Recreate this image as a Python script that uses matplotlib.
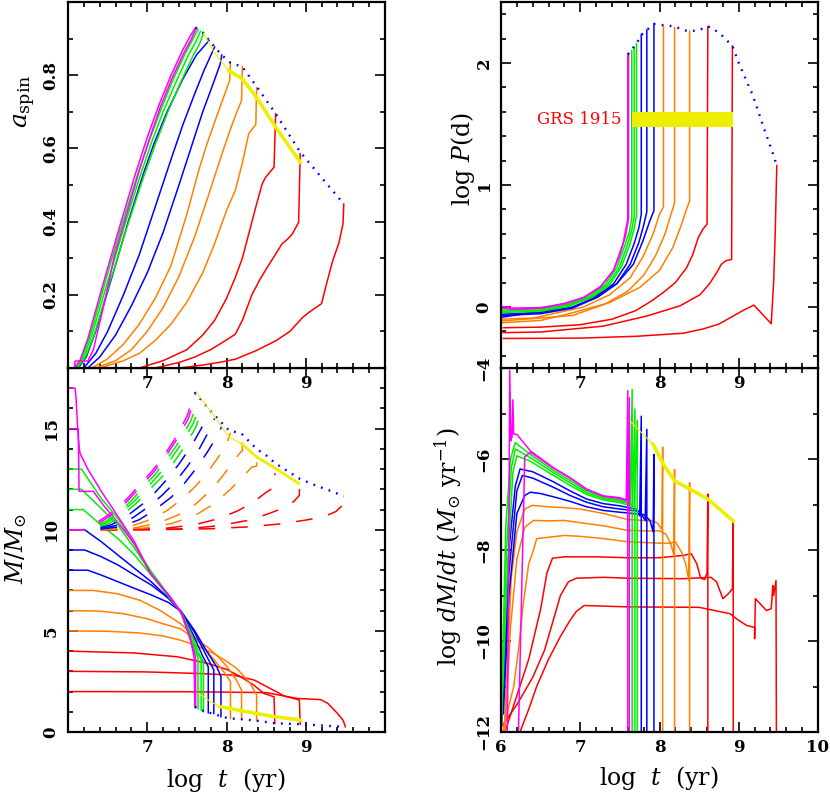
import matplotlib
matplotlib.use("Agg")
import matplotlib.pyplot as plt
from matplotlib.ticker import MultipleLocator

plt.rcParams['font.family'] = ['DejaVu Serif']
plt.rcParams['mathtext.fontset'] = 'dejavuserif'
plt.rcParams['lines.scale_dashes'] = False

# ---------------- data ----------------
donor_mass = [17, 15, 13, 12, 11, 10, 9, 8, 7, 6, 5, 4, 3, 2]
track_colors = ['#ff00ff', '#ff00ff', '#00ee00', '#00ee00', '#00ee00',
                '#0000ff', '#0000ff', '#0000ff', '#ff8000', '#ff8000', '#ff8000',
                '#ff0000', '#ff0000', '#ff0000']

# spin parameter vs log t
spin_t = [
    [6.08, 6.15, 6.25, 6.45, 6.65, 6.85, 7.0, 7.15, 7.3, 7.45, 7.55, 7.61],
    [6.08, 6.09, 6.25, 6.32, 6.45, 6.59, 6.74, 6.9, 7.02, 7.16, 7.31, 7.46, 7.56, 7.61],
    [6.1, 6.18, 6.28, 6.47, 6.67, 6.88, 7.03, 7.18, 7.33, 7.48, 7.58, 7.64],
    [6.11, 6.2, 6.3, 6.5, 6.7, 6.91, 7.06, 7.21, 7.37, 7.52, 7.61, 7.67],
    [6.12, 6.22, 6.33, 6.53, 6.73, 6.95, 7.1, 7.26, 7.42, 7.57, 7.66, 7.71],
    [6.13, 6.23, 6.35, 6.55, 6.76, 6.95, 7.08, 7.25, 7.45, 7.62, 7.78],
    [6.2, 6.35, 6.5, 6.7, 6.9, 7.1, 7.3, 7.45, 7.6, 7.72, 7.85],
    [6.25, 6.4, 6.6, 6.8, 7.0, 7.2, 7.4, 7.55, 7.7, 7.82, 7.92, 7.94],
    [6.3, 6.5, 6.7, 6.9, 7.1, 7.3, 7.5, 7.65, 7.75, 7.88, 7.98, 8.04, 8.05],
    [6.35, 6.6, 6.8, 7.0, 7.2, 7.4, 7.6, 7.8, 7.95, 8.07, 8.15, 8.19, 8.2],
    [6.4, 6.7, 6.9, 7.1, 7.3, 7.5, 7.7, 7.85, 8.0, 8.11, 8.2, 8.28, 8.37, 8.38],
    [6.9, 7.2, 7.5, 7.7, 7.85, 8.0, 8.11, 8.2, 8.28, 8.37, 8.45, 8.49, 8.6, 8.62],
    [7.1, 7.4, 7.6, 7.8, 7.95, 8.11, 8.2, 8.32, 8.43, 8.54, 8.7, 8.77, 8.83, 8.91, 8.93],
    [7.4, 7.7, 7.9, 8.11, 8.37, 8.62, 8.8, 8.96, 9.04, 9.2, 9.25, 9.34, 9.42, 9.47, 9.48],
]
spin_a = [
    [0.0, 0.02, 0.08, 0.235, 0.385, 0.53, 0.63, 0.72, 0.80, 0.87, 0.91, 0.93],
    [0.0, 0.019, 0.019, 0.05, 0.17, 0.31, 0.42, 0.54, 0.62, 0.71, 0.79, 0.86, 0.9, 0.925],
    [0.0, 0.03, 0.09, 0.235, 0.385, 0.53, 0.625, 0.71, 0.79, 0.86, 0.9, 0.925],
    [0.0, 0.03, 0.09, 0.235, 0.38, 0.525, 0.62, 0.705, 0.785, 0.855, 0.89, 0.92],
    [0.0, 0.03, 0.09, 0.235, 0.375, 0.52, 0.61, 0.70, 0.78, 0.85, 0.885, 0.915],
    [0.0, 0.03, 0.1, 0.245, 0.40, 0.53, 0.61, 0.70, 0.79, 0.855, 0.895],
    [0.0, 0.04, 0.1, 0.2, 0.31, 0.44, 0.57, 0.665, 0.75, 0.815, 0.877],
    [0.0, 0.03, 0.09, 0.17, 0.26, 0.37, 0.50, 0.60, 0.70, 0.77, 0.83, 0.855],
    [0.0, 0.025, 0.065, 0.12, 0.19, 0.28, 0.42, 0.54, 0.61, 0.69, 0.75, 0.786, 0.834],
    [0.0, 0.02, 0.05, 0.1, 0.165, 0.25, 0.36, 0.49, 0.59, 0.665, 0.71, 0.731, 0.823],
    [0.0, 0.02, 0.04, 0.075, 0.12, 0.18, 0.26, 0.34, 0.43, 0.485, 0.56, 0.64, 0.666, 0.766],
    [0.0, 0.02, 0.05, 0.09, 0.13, 0.19, 0.247, 0.3, 0.366, 0.44, 0.503, 0.52, 0.549, 0.695],
    [0.0, 0.015, 0.03, 0.05, 0.07, 0.092, 0.13, 0.2, 0.245, 0.284, 0.339, 0.352, 0.366, 0.398, 0.585],
    [0.0, 0.008, 0.015, 0.024, 0.047, 0.074, 0.1, 0.138, 0.152, 0.176, 0.22, 0.293, 0.343, 0.394, 0.448],
]
spin_env_t = [7.61, 7.64, 7.67, 7.71, 7.78, 7.85, 7.94, 8.05, 8.2, 8.39, 8.62, 8.93, 9.48]
spin_env_a = [0.93, 0.925, 0.92, 0.915, 0.895, 0.877, 0.855, 0.834, 0.823, 0.766, 0.695, 0.59, 0.448]
spin_yel_thin_t = [7.71, 7.85, 8.03]
spin_yel_thin_a = [0.915, 0.86, 0.812]
spin_yel_t = [8.03, 8.2, 8.39, 8.62, 8.93]
spin_yel_a = [0.812, 0.79, 0.736, 0.658, 0.5625]

# orbital period vs log t
per_t = [
    [6.0, 6.1, 6.1, 6.5, 6.8, 7.04, 7.25, 7.42, 7.54, 7.6, 7.6],
    [6.0, 6.5, 6.8, 7.05, 7.26, 7.42, 7.5, 7.57, 7.61, 7.61],
    [6.0, 6.5, 6.8, 7.09, 7.31, 7.46, 7.56, 7.62, 7.65, 7.65],
    [6.0, 6.5, 6.82, 7.12, 7.34, 7.49, 7.59, 7.65, 7.68, 7.68],
    [6.0, 6.5, 6.85, 7.15, 7.37, 7.52, 7.62, 7.68, 7.71, 7.71],
    [6.0, 6.5, 6.9, 7.2, 7.42, 7.58, 7.68, 7.74, 7.77, 7.77],
    [6.0, 6.5, 6.9, 7.22, 7.46, 7.63, 7.74, 7.8, 7.84, 7.84],
    [6.0, 6.66, 7.16, 7.46, 7.67, 7.79, 7.88, 7.93, 7.93],
    [6.0, 6.41, 7.04, 7.37, 7.63, 7.79, 7.92, 8.0, 8.05, 8.05],
    [6.0, 6.9, 7.3, 7.6, 7.8, 7.95, 8.07, 8.15, 8.19, 8.19],
    [6.0, 6.5, 6.83, 7.37, 7.75, 8.0, 8.17, 8.28, 8.34, 8.38, 8.38],
    [6.03, 6.5, 7.0, 7.4, 7.7, 7.9, 8.05, 8.2, 8.34, 8.42, 8.49, 8.55, 8.6, 8.61],
    [6.03, 6.5, 7.29, 7.84, 8.26, 8.51, 8.63, 8.72, 8.78, 8.84, 8.91, 8.92],
    [6.03, 7.0, 7.71, 8.3, 8.55, 8.75, 8.93, 9.05, 9.19, 9.3, 9.41, 9.44, 9.46, 9.48],
]
per_p = [
    [0.0, 0.0, -0.02, -0.01, 0.03, 0.077, 0.16, 0.30, 0.52, 0.72, 2.07],
    [-0.01, -0.005, 0.025, 0.08, 0.17, 0.3, 0.43, 0.58, 0.72, 2.08],
    [-0.025, -0.015, 0.015, 0.08, 0.18, 0.32, 0.5, 0.62, 0.73, 2.10],
    [-0.035, -0.025, 0.01, 0.08, 0.18, 0.32, 0.5, 0.63, 0.74, 2.13],
    [-0.045, -0.035, 0.005, 0.08, 0.18, 0.33, 0.5, 0.64, 0.75, 2.16],
    [-0.06, -0.045, 0.0, 0.08, 0.19, 0.35, 0.52, 0.65, 0.76, 2.23],
    [-0.07, -0.055, -0.01, 0.08, 0.19, 0.35, 0.53, 0.67, 0.78, 2.27],
    [-0.085, -0.02, 0.08, 0.19, 0.35, 0.54, 0.71, 0.79, 2.32],
    [-0.10, -0.09, 0.0, 0.10, 0.24, 0.41, 0.6, 0.76, 0.82, 2.30],
    [-0.115, -0.07, 0.02, 0.13, 0.26, 0.42, 0.6, 0.77, 0.85, 2.29],
    [-0.13, -0.11, -0.06, 0.036, 0.16, 0.30, 0.49, 0.68, 0.8, 0.87, 2.26],
    [-0.17, -0.165, -0.145, -0.1, -0.03, 0.05, 0.12, 0.2, 0.32, 0.43, 0.57, 0.64, 0.68, 2.30],
    [-0.21, -0.205, -0.157, -0.074, 0.01, 0.10, 0.19, 0.28, 0.35, 0.38, 0.39, 2.14],
    [-0.258, -0.255, -0.24, -0.215, -0.18, -0.14, -0.074, -0.03, 0.016, -0.06, -0.137, 0.2, 0.6, 1.16],
]
per_env_t = [7.6, 7.65, 7.71, 7.77, 7.84, 7.93, 8.05, 8.19, 8.3, 8.38, 8.5, 8.61, 8.75, 8.92,
             9.0, 9.1, 9.18, 9.31, 9.43, 9.48]
per_env_p = [2.07, 2.11, 2.16, 2.23, 2.27, 2.32, 2.31, 2.30, 2.27, 2.26, 2.27, 2.30, 2.25, 2.14,
             2.0, 1.85, 1.73, 1.48, 1.26, 1.16]
grs_t = [7.65, 8.93]
grs_p = [1.478, 1.60]

# donor mass vs log t
mass_t = [
    [6.0, 6.09, 6.1, 6.13, 6.15, 6.25, 6.42, 6.59, 6.84, 7.04, 7.29, 7.44, 7.54, 7.59, 7.6],
    [6.0, 6.13, 6.14, 6.32, 6.45, 6.6, 6.84, 7.04, 7.29, 7.44, 7.54, 7.61, 7.61],
    [6.0, 6.17, 6.42, 6.63, 6.84, 7.05, 7.27, 7.42, 7.52, 7.6, 7.64, 7.64],
    [6.0, 6.17, 6.42, 6.63, 6.84, 7.05, 7.27, 7.43, 7.55, 7.63, 7.68, 7.68],
    [6.0, 6.19, 6.42, 6.63, 6.84, 7.05, 7.27, 7.43, 7.56, 7.65, 7.71, 7.71],
    [6.0, 6.21, 6.42, 6.63, 6.84, 7.05, 7.27, 7.43, 7.58, 7.7, 7.77, 7.77],
    [6.0, 6.21, 6.42, 6.63, 6.84, 7.05, 7.27, 7.43, 7.6, 7.73, 7.84, 7.84],
    [6.0, 6.25, 6.42, 6.63, 6.84, 7.05, 7.27, 7.43, 7.6, 7.75, 7.88, 7.93, 7.93],
    [6.0, 6.32, 6.62, 6.91, 7.16, 7.42, 7.6, 7.75, 7.88, 8.0, 8.05, 8.05],
    [6.0, 6.4, 6.7, 7.0, 7.2, 7.42, 7.6, 7.76, 7.9, 8.01, 8.12, 8.19, 8.19],
    [6.0, 6.5, 6.9, 7.2, 7.42, 7.6, 7.84, 8.0, 8.13, 8.3, 8.38, 8.38],
    [6.0, 6.83, 7.38, 7.76, 8.0, 8.18, 8.35, 8.47, 8.6, 8.61],
    [6.0, 7.0, 7.67, 8.09, 8.35, 8.51, 8.73, 8.92, 8.93],
    [6.0, 7.5, 8.5, 8.89, 9.19, 9.28, 9.4, 9.47, 9.5],
]
mass_m = [
    [17.0, 17.0, 16.6, 14.5, 13.8, 13.0, 11.9, 10.9, 9.4, 7.83, 6.68, 5.86, 4.7, 3.72, 1.25],
    [15.0, 15.0, 11.9, 11.9, 11.2, 10.5, 9.3, 7.85, 6.65, 5.8, 4.6, 3.72, 1.2],
    [13.0, 13.0, 11.55, 10.56, 9.24, 7.93, 6.78, 5.9, 4.9, 4.0, 3.72, 1.15],
    [12.0, 12.0, 11.05, 10.23, 9.08, 7.85, 6.72, 5.9, 4.7, 3.9, 3.63, 1.09],
    [11.0, 11.0, 10.23, 9.57, 8.75, 7.76, 6.69, 5.95, 4.8, 3.9, 3.47, 1.0],
    [10.0, 10.0, 9.41, 8.75, 8.09, 7.43, 6.61, 5.95, 4.8, 3.75, 3.22, 0.95],
    [9.0, 9.0, 8.67, 8.26, 7.76, 7.27, 6.61, 5.95, 4.9, 3.9, 3.06, 0.92],
    [8.0, 8.0, 7.76, 7.43, 7.1, 6.78, 6.4, 5.95, 5.0, 4.0, 3.2, 2.73, 0.76],
    [7.0, 7.0, 6.84, 6.51, 6.02, 5.36, 4.7, 4.0, 3.4, 2.8, 2.48, 0.67],
    [6.0, 5.98, 5.85, 5.6, 5.35, 5.1, 4.6, 4.2, 3.7, 3.22, 2.6, 2.07, 0.63],
    [5.0, 4.98, 4.9, 4.75, 4.54, 4.3, 3.88, 3.5, 3.14, 2.4, 1.83, 0.56],
    [4.0, 3.91, 3.72, 3.39, 3.1, 2.73, 2.3, 1.91, 1.74, 0.43],
    [3.0, 2.97, 2.89, 2.81, 2.57, 2.24, 1.78, 1.58, 0.39],
    [2.0, 1.99, 1.95, 1.66, 1.6, 1.41, 0.92, 0.59, 0.26],
]
# black hole mass vs log t (dashed)
bh_t = [
    [6.0, 6.19, 6.25, 6.42, 6.59, 6.75, 6.91, 7.05, 7.2, 7.35, 7.5, 7.6],
    [6.0, 6.2, 6.27, 6.44, 6.61, 6.77, 6.93, 7.07, 7.22, 7.37, 7.52, 7.61],
    [6.0, 6.22, 6.47, 6.64, 6.8, 6.96, 7.1, 7.25, 7.4, 7.55, 7.65],
    [6.0, 6.23, 6.49, 6.66, 6.83, 6.99, 7.13, 7.28, 7.43, 7.58, 7.68],
    [6.0, 6.25, 6.52, 6.69, 6.86, 7.02, 7.17, 7.32, 7.47, 7.61, 7.71],
    [6.0, 6.27, 6.55, 6.75, 6.95, 7.1, 7.25, 7.4, 7.55, 7.68, 7.78],
    [6.0, 6.3, 6.6, 6.82, 7.02, 7.2, 7.36, 7.5, 7.65, 7.76, 7.85],
    [6.0, 6.33, 6.66, 6.9, 7.1, 7.3, 7.47, 7.62, 7.76, 7.86, 7.94],
    [6.0, 6.36, 6.75, 7.0, 7.25, 7.45, 7.62, 7.76, 7.9, 8.0, 8.05],
    [6.0, 6.4, 6.85, 7.15, 7.4, 7.62, 7.8, 7.95, 8.08, 8.18, 8.2, 8.2],
    [6.0, 6.45, 6.95, 7.3, 7.6, 7.85, 8.05, 8.2, 8.32, 8.38, 8.38],
    [6.0, 6.6, 7.2, 7.6, 7.9, 8.15, 8.35, 8.5, 8.6, 8.61, 8.61],
    [6.0, 6.8, 7.5, 7.9, 8.25, 8.5, 8.7, 8.85, 8.92, 8.92],
    [6.0, 7.0, 7.8, 8.3, 8.7, 9.0, 9.23, 9.38, 9.46, 9.48, 9.48],
]
bh_m = [
    [10, 10, 10.15, 10.5, 10.95, 11.55, 12.25, 12.85, 13.6, 14.5, 15.6, 16.8],
    [10, 10, 10.12, 10.45, 10.9, 11.5, 12.2, 12.8, 13.55, 14.45, 15.5, 16.7],
    [10, 10, 10.4, 10.85, 11.45, 12.15, 12.75, 13.5, 14.35, 15.4, 16.5],
    [10, 10, 10.35, 10.8, 11.4, 12.05, 12.65, 13.4, 14.25, 15.25, 16.3],
    [10, 10, 10.3, 10.75, 11.3, 11.95, 12.55, 13.25, 14.1, 15.05, 16.1],
    [10, 10, 10.25, 10.7, 11.3, 11.85, 12.5, 13.25, 14.1, 15.0, 15.8],
    [10, 10, 10.2, 10.6, 11.15, 11.75, 12.4, 13.1, 13.95, 14.75, 15.5],
    [10, 10, 10.15, 10.5, 11.0, 11.6, 12.3, 13.05, 13.85, 14.5, 15.1],
    [10, 10, 10.12, 10.45, 10.95, 11.55, 12.2, 12.85, 13.6, 14.25, 14.8],
    [10, 10, 10.1, 10.35, 10.75, 11.3, 11.95, 12.65, 13.35, 13.85, 13.9, 14.75],
    [10, 10, 10.08, 10.3, 10.7, 11.3, 12.0, 12.6, 13.1, 13.15, 14.0],
    [10, 10, 10.06, 10.25, 10.55, 10.95, 11.4, 11.85, 12.1, 12.1, 12.8],
    [10, 10, 10.05, 10.2, 10.45, 10.75, 11.05, 11.4, 11.7, 12.5],
    [10, 10, 10.05, 10.15, 10.3, 10.48, 10.65, 10.9, 11.2, 11.3, 11.66],
]
mass_env_lo_t = [7.6, 7.68, 7.77, 7.84, 7.93, 8.05, 8.19, 8.38, 8.61, 8.92, 9.2, 9.5]
mass_env_lo_m = [1.25, 1.09, 0.95, 0.92, 0.76, 0.67, 0.63, 0.56, 0.43, 0.39, 0.32, 0.26]
mass_env_hi_t = [7.6, 7.81, 8.03, 8.19, 8.38, 8.53, 8.61, 8.92, 9.12, 9.33, 9.48]
mass_env_hi_m = [16.8, 15.82, 14.92, 14.75, 14.0, 13.6, 13.3, 12.53, 12.2, 11.9, 11.66]
mass_yel_lo_thin_t = [7.65, 7.78, 7.92]
mass_yel_lo_thin_m = [1.9, 1.55, 1.25]
mass_yel_lo_t = [7.92, 8.26, 8.6, 8.93]
mass_yel_lo_m = [1.25, 1.0, 0.76, 0.59]
mass_yel_hi_thin_t = [7.62, 7.85, 8.03, 8.19]
mass_yel_hi_thin_m = [16.8, 15.6, 14.59, 14.26]
mass_yel_hi_t = [8.19, 8.38, 8.62, 8.91]
mass_yel_hi_m = [14.26, 13.6, 13.03, 12.29]

# mass transfer rate vs log t
mdot_t = [
    [6.08, 6.1, 6.11, 6.125, 6.14, 6.15, 6.16, 6.2, 6.37, 6.66, 6.87, 7.08, 7.29, 7.5, 7.58, 7.6, 7.6],
    [6.22, 6.3, 6.37, 6.66, 6.87, 7.08, 7.29, 7.5, 7.6, 7.62, 7.62],
    [6.0, 6.06, 6.12, 6.18, 6.37, 6.66, 6.87, 7.08, 7.29, 7.5, 7.63, 7.655, 7.655],
    [6.0, 6.07, 6.13, 6.18, 6.37, 6.66, 6.87, 7.08, 7.29, 7.5, 7.66, 7.69, 7.69],
    [6.0, 6.08, 6.15, 6.2, 6.37, 6.66, 6.87, 7.08, 7.29, 7.5, 7.68, 7.72, 7.72],
    [6.01, 6.1, 6.18, 6.24, 6.4, 6.66, 6.87, 7.08, 7.29, 7.5, 7.7, 7.75, 7.77, 7.77],
    [6.02, 6.1, 6.2, 6.27, 6.4, 6.66, 6.87, 7.08, 7.29, 7.5, 7.75, 7.82, 7.84, 7.84],
    [6.03, 6.1, 6.2, 6.3, 6.37, 6.5, 6.66, 6.87, 7.08, 7.29, 7.5, 7.8, 7.88, 7.92, 7.93, 7.93],
    [6.04, 6.13, 6.2, 6.3, 6.39, 6.6, 6.8, 7.0, 7.3, 7.6, 7.9, 7.97, 8.03, 8.04, 8.04],
    [6.05, 6.12, 6.2, 6.3, 6.41, 6.6, 6.8, 7.0, 7.3, 7.6, 7.85, 8.0, 8.08, 8.14, 8.18, 8.19, 8.19],
    [6.02, 6.16, 6.22, 6.28, 6.35, 6.41, 6.45, 6.6, 6.8, 7.0, 7.3, 7.6, 8.0, 8.13, 8.2, 8.28,
     8.33, 8.37, 8.38, 8.38],
    [6.05, 6.2, 6.35, 6.5, 6.58, 6.65, 6.8, 7.2, 7.6, 8.0, 8.3, 8.4, 8.47, 8.52, 8.57, 8.6, 8.61, 8.61],
    [6.0, 6.2, 6.4, 6.55, 6.65, 6.75, 6.85, 6.95, 7.3, 7.6, 8.3, 8.65, 8.72, 8.8, 8.87, 8.92,
     8.93, 8.93],
    [6.24, 6.35, 6.45, 6.6, 6.75, 6.87, 6.95, 7.05, 7.6, 8.5, 8.89, 8.97, 9.1, 9.2, 9.2, 9.21,
     9.28, 9.35, 9.41, 9.43, 9.44, 9.47, 9.475],
]
mdot_v = [
    [-12, -7.5, -4.05, -5.6, -5.5, -4.7, -5.45, -5.46, -5.82, -6.19, -6.41, -6.66, -6.81, -6.85,
     -6.9, -4.5, -12],
    [-12, -5.95, -5.85, -6.2, -6.42, -6.67, -6.82, -6.87, -6.92, -4.65, -12],
    [-12, -7.5, -6.0, -5.64, -5.9, -6.25, -6.47, -6.7, -6.84, -6.9, -6.97, -4.47, -12],
    [-12, -8.0, -6.2, -5.78, -5.97, -6.3, -6.52, -6.74, -6.87, -6.93, -7.0, -4.9, -12],
    [-12, -8.5, -6.3, -5.93, -6.05, -6.36, -6.58, -6.78, -6.9, -6.96, -7.05, -5.15, -12],
    [-11.8, -8.0, -6.6, -6.22, -6.28, -6.5, -6.7, -6.88, -6.98, -7.03, -7.1, -7.25, -5.06, -12],
    [-11.6, -8.5, -6.7, -6.36, -6.42, -6.62, -6.8, -6.95, -7.05, -7.1, -7.15, -7.35, -5.35, -12],
    [-11.6, -9.0, -7.2, -6.8, -6.73, -6.76, -6.83, -6.93, -7.05, -7.13, -7.17, -7.22, -7.35,
     -7.6, -5.9, -12],
    [-12, -8.6, -7.6, -7.1, -7.02, -7.05, -7.07, -7.1, -7.2, -7.33, -7.36, -7.4, -7.55, -5.74, -12],
    [-12, -9.7, -8.2, -7.5, -7.35, -7.36, -7.35, -7.4, -7.47, -7.57, -7.58, -7.58, -7.65, -7.85,
     -8.1, -6.23, -12],
    [-12, -11.0, -10.2, -9.2, -8.3, -8.0, -7.75, -7.72, -7.68, -7.7, -7.75, -7.82, -7.85, -7.85,
     -7.82, -8.05, -8.3, -8.67, -6.52, -12],
    [-12, -11.2, -10.4, -9.3, -8.5, -8.18, -8.15, -8.15, -8.17, -8.17, -8.12, -8.08, -8.3, -8.62,
     -8.65, -8.5, -6.77, -12],
    [-11.9, -11.4, -10.8, -10.2, -9.6, -9.0, -8.7, -8.62, -8.6, -8.62, -8.63, -8.6, -8.7, -9.07,
     -8.96, -8.85, -7.36, -12],
    [-12, -11.5, -11.0, -10.4, -9.9, -9.55, -9.35, -9.22, -9.25, -9.26, -9.4, -9.51, -9.66, -9.7,
     -9.95, -9.07, -9.2, -9.33, -9.29, -8.78, -9.0, -8.67, -12],
]
mdot_yel_thin_t = [7.63, 7.92]
mdot_yel_thin_v = [-5.17, -5.68]
mdot_yel_t = [7.92, 8.05, 8.19, 8.38, 8.61, 8.93]
mdot_yel_v = [-5.68, -6.12, -6.48, -6.66, -6.88, -7.36]

# ---------------- figure ----------------
LW = 1.1
YEL = '#eeee00'
ENV = dict(color='#0000ff', lw=1.7, ls=(0, (1.3, 4.5)))
DASH = (0, (12, 11.5))

fig = plt.figure(figsize=(8.30, 7.95), dpi=100)
W = 317 / 830
ax_bl = fig.add_axes([68 / 830, 63 / 795, W, 364 / 795])
ax_br = fig.add_axes([501 / 830, 63 / 795, W, 364 / 795])
ax_tl = fig.add_axes([68 / 830, 427 / 795, W, 366 / 795])
ax_tr = fig.add_axes([501 / 830, 427 / 795, W, 366 / 795])

TICKFONT = dict(fontsize=12, fontweight='bold')
LABEL_FS = 17


def style(ax, ylim, yticks, ylabels, yminor, xlabels):
    ax.set_xlim(6, 10)
    ax.set_ylim(*ylim)
    ax.set_xticks([6, 7, 8, 9, 10], xlabels, **TICKFONT)
    ax.xaxis.set_minor_locator(MultipleLocator(0.2))
    ax.set_yticks(yticks, ylabels, rotation=90, va='center', **TICKFONT)
    ax.yaxis.set_minor_locator(MultipleLocator(yminor))
    ax.tick_params(which='both', direction='in', top=True, right=True, width=1.2)
    ax.tick_params(which='major', length=7)
    ax.tick_params(which='minor', length=3.5)
    ax.tick_params(axis='x', pad=5)
    ax.tick_params(axis='y', pad=6)
    for s in ax.spines.values():
        s.set_linewidth(1.6)


# top-left: spin
for i in reversed(range(len(donor_mass))):
    ax_tl.plot(spin_t[i], spin_a[i], color=track_colors[i], lw=LW)
ax_tl.plot(spin_env_t, spin_env_a, **ENV)
ax_tl.plot(spin_yel_thin_t, spin_yel_thin_a, color=YEL, lw=0.8, zorder=3)
ax_tl.plot(spin_yel_t, spin_yel_a, color=YEL, lw=2.6, zorder=3)
style(ax_tl, (0, 1), [0.2, 0.4, 0.6, 0.8], ['0.2', '0.4', '0.6', '0.8'], 0.1,
      ['', '7', '8', '9', ''])
ax_tl.set_ylabel(r'$a_{\rm spin}$', fontsize=LABEL_FS + 1)
ax_tl.yaxis.set_label_coords(-0.135, 0.73)

# top-right: period
for i in reversed(range(len(donor_mass))):
    ax_tr.plot(per_t[i], per_p[i], color=track_colors[i], lw=LW)
ax_tr.plot(per_env_t, per_env_p, **ENV)
ax_tr.fill_between(grs_t, grs_p[0], grs_p[1], color=YEL, lw=0, zorder=4)
ax_tr.text(7.52, sum(grs_p) / 2, 'GRS 1915', color='#ff0000', fontsize=12,
           ha='right', va='center')
style(ax_tr, (-0.5, 2.5), [0, 1, 2], ['0', '1', '2'], 0.2, ['', '7', '8', '9', ''])
ax_tr.set_ylabel(r'log $P$(d)', fontsize=LABEL_FS)
ax_tr.yaxis.set_label_coords(-0.12, 0.57)

# bottom-left: masses
for i in reversed(range(len(donor_mass))):
    ax_bl.plot(mass_t[i], mass_m[i], color=track_colors[i], lw=LW)
for i in reversed(range(len(donor_mass))):
    ax_bl.plot(bh_t[i], bh_m[i], color=track_colors[i], lw=LW, ls=DASH)
ax_bl.plot(mass_env_lo_t, mass_env_lo_m, **ENV)
ax_bl.plot(mass_env_hi_t, mass_env_hi_m, **ENV)
ax_bl.plot(mass_yel_lo_thin_t, mass_yel_lo_thin_m, color=YEL, lw=0.8, zorder=3)
ax_bl.plot(mass_yel_lo_t, mass_yel_lo_m, color=YEL, lw=2.6, zorder=3)
ax_bl.plot(mass_yel_hi_thin_t, mass_yel_hi_thin_m, color=YEL, lw=0.8, zorder=3)
ax_bl.plot(mass_yel_hi_t, mass_yel_hi_m, color=YEL, lw=2.0, zorder=3)
style(ax_bl, (0, 18), [0, 5, 10, 15], ['0', '5', '10', '15'], 1, ['', '7', '8', '9', ''])
ax_bl.set_ylabel(r'$M/M_{\odot}$', fontsize=LABEL_FS)
ax_bl.yaxis.set_label_coords(-0.165, 0.505)
ax_bl.set_xlabel(r'log  $t$  (yr)', fontsize=LABEL_FS)
ax_bl.xaxis.set_label_coords(0.497, -0.132)
ax_bl.xaxis.label.set_va('center')

# bottom-right: mass transfer rate
for i in reversed(range(len(donor_mass))):
    ax_br.plot(mdot_t[i], mdot_v[i], color=track_colors[i], lw=LW)
ax_br.plot(mdot_yel_thin_t, mdot_yel_thin_v, color=YEL, lw=0.8, zorder=3)
ax_br.plot(mdot_yel_t, mdot_yel_v, color=YEL, lw=2.6, zorder=3)
style(ax_br, (-12, -4), [-12, -10, -8, -6, -4],
      ['\u221212', '\u221210', '\u22128', '\u22126', '\u22124'], 1,
      ['6', '7', '8', '9', '10'])
ax_br.set_ylabel(r'log $dM/dt$ ($M_{\odot}$ yr$^{-1}$)', fontsize=LABEL_FS)
ax_br.yaxis.set_label_coords(-0.165, 0.508)
ax_br.set_xlabel(r'log  $t$  (yr)', fontsize=LABEL_FS)
ax_br.xaxis.set_label_coords(0.498, -0.127)
ax_br.xaxis.label.set_va('center')

for ax in (ax_tl, ax_tr, ax_bl, ax_br):
    ax.yaxis.label.set_va('center')

fig.savefig('out.png', dpi=100)
